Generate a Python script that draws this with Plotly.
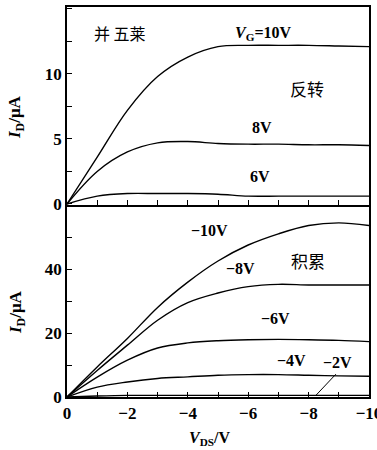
import plotly.graph_objects as go

# ---------------- data ----------------
vds = [0, -1, -2, -3, -4, -5, -6, -7, -8, -9, -10]

# inversion (top panel), I_D in uA
inv_10 = [0, 3.6, 7.2, 9.8, 11.3, 12.1, 12.2, 12.2, 12.2, 12.15, 12.1]
inv_8 = [0, 2.5, 4.0, 4.7, 4.8, 4.65, 4.6, 4.6, 4.55, 4.55, 4.5]
inv_6 = [0, 0.6, 0.8, 0.8, 0.8, 0.75, 0.6, 0.6, 0.6, 0.6, 0.6]

# accumulation (bottom panel), I_D in uA
acc_10 = [0, 9.4, 18.3, 28.0, 35.9, 42.5, 47.5, 51.0, 53.6, 54.4, 53.6]
acc_8 = [0, 8.3, 16.2, 24.0, 29.5, 32.5, 34.5, 35.2, 35.0, 35.0, 35.0]
acc_6 = [0, 6.2, 11.5, 15.3, 16.9, 17.6, 17.9, 18.0, 17.9, 17.7, 17.3]
acc_4 = [0, 3.1, 4.7, 5.8, 6.3, 6.8, 7.0, 7.0, 6.8, 6.6, 6.5]
acc_2 = [0, 0.3, 0.5, 0.5, 0.5, 0.5, 0.5, 0.5, 0.5, 0.5, 0.5]

top_series = [inv_10, inv_8, inv_6]
bot_series = [acc_10, acc_8, acc_6, acc_4, acc_2]

SERIF = "Liberation Serif"
CJK = "Noto Sans CJK SC"

fig = go.Figure()
for s in top_series:
    fig.add_trace(go.Scatter(x=vds, y=s, mode="lines", line=dict(color="black", width=1.4, shape="spline"),
                             xaxis="x2", yaxis="y2", showlegend=False, hoverinfo="skip"))
for s in bot_series:
    fig.add_trace(go.Scatter(x=vds, y=s, mode="lines", line=dict(color="black", width=1.4, shape="spline"),
                             xaxis="x", yaxis="y", showlegend=False, hoverinfo="skip"))

H = 390.0
split = 192 / H

tickfont = dict(family=SERIF, size=17, color="black", weight="bold")
axis_common = dict(showline=True, linecolor="black", linewidth=1.5, ticks="inside",
                   tickcolor="black", ticklen=5, tickwidth=1.2, showgrid=False, zeroline=False,
                   automargin=False, tickfont=tickfont)

fig.update_layout(
    width=377, height=450,
    margin=dict(l=67, r=8, t=7, b=53),
    paper_bgcolor="white", plot_bgcolor="white",
    xaxis=dict(axis_common, mirror=False, range=[0, -10], tickvals=[0, -2, -4, -6, -8, -10],
               ticktext=["0", "−2", "−4", "−6", "−8", "−10"], ticklabeloverflow="allow",
               minor=dict(dtick=1, ticks="inside", ticklen=5, tickcolor="black"),
               anchor="y", domain=[0, 1]),
    yaxis=dict(axis_common, mirror=True, range=[0, 60], tickvals=[0, 20, 40], domain=[0, split],
               minor=dict(dtick=10, ticks="inside", ticklen=5, tickcolor="black"), anchor="x"),
    xaxis2=dict(axis_common, mirror=True, range=[0, -10], dtick=1, showticklabels=False,
                anchor="y2", domain=[0, 1]),
    yaxis2=dict(axis_common, mirror=True, range=[-0.08, 15.15], tickvals=[0, 5, 10], domain=[split, 1],
                minor=dict(dtick=2.5, ticks="inside", ticklen=5, tickcolor="black"), anchor="x2"),
)

ann = []
def txt(x, y, text, xref, yref, font, size=16, **kw):
    ann.append(dict(x=x, y=y, xref=xref, yref=yref, text=text, showarrow=False,
                    font=dict(family=font, size=size, color="black"), **kw))

# top panel labels
txt(-1.77, 13.15, "并 五莱", "x2", "y2", CJK, 16)
txt(-6.5, 13.15, "<b><i>V</i><sub>G</sub>=10V</b>", "x2", "y2", SERIF, 16)
txt(-7.95, 8.9, "反转", "x2", "y2", CJK, 17)
txt(-6.46, 5.85, "<b>8V</b>", "x2", "y2", SERIF, 16)
txt(-6.4, 2.1, "<b>6V</b>", "x2", "y2", SERIF, 16)

# bottom panel labels
txt(-4.73, 52.1, "<b>−10V</b>", "x", "y", SERIF, 16)
txt(-7.98, 42.7, "积累", "x", "y", CJK, 17)
txt(-5.76, 40.2, "<b>−8V</b>", "x", "y", SERIF, 16)
txt(-6.89, 24.6, "<b>−6V</b>", "x", "y", SERIF, 16)
txt(-7.45, 11.5, "<b>−4V</b>", "x", "y", SERIF, 16)
txt(-8.97, 10.8, "<b>−2V</b>", "x", "y", SERIF, 16)

# pointer line from -2V label to curve
ann.append(dict(x=-8.24, y=0.5, ax=-8.95, ay=7.6, xref="x", yref="y", axref="x", ayref="y",
                showarrow=True, arrowhead=0, arrowwidth=1, arrowcolor="black", text=""))

# axis titles (paper coords relative to plot area: x0=67px, width 302px; y0=397px, height 390px)
def pxx(px):
    return (px - 67) / 302.0

def pxy(py):
    return (397 - py) / 390.0

ytitle = "<b><i>I</i><sub>D</sub>/μA</b>"
for cx, cy in [(16, 117), (17, 312)]:
    ann.append(dict(x=pxx(cx), y=pxy(cy), xref="paper", yref="paper", text=ytitle,
                    textangle=-90, showarrow=False, font=dict(family=SERIF, size=17, color="black"),
                    xanchor="center", yanchor="middle"))
ann.append(dict(x=pxx(209), y=pxy(438), xref="paper", yref="paper", text="<b><i>V</i><sub>DS</sub>/V</b>",
                showarrow=False, font=dict(family=SERIF, size=16, color="black"),
                xanchor="center", yanchor="middle"))

fig.update_layout(annotations=ann)
fig.write_html("out.html", config={"displayModeBar": False},
               post_script="document.body.style.margin='0';document.body.style.overflow='hidden';")
